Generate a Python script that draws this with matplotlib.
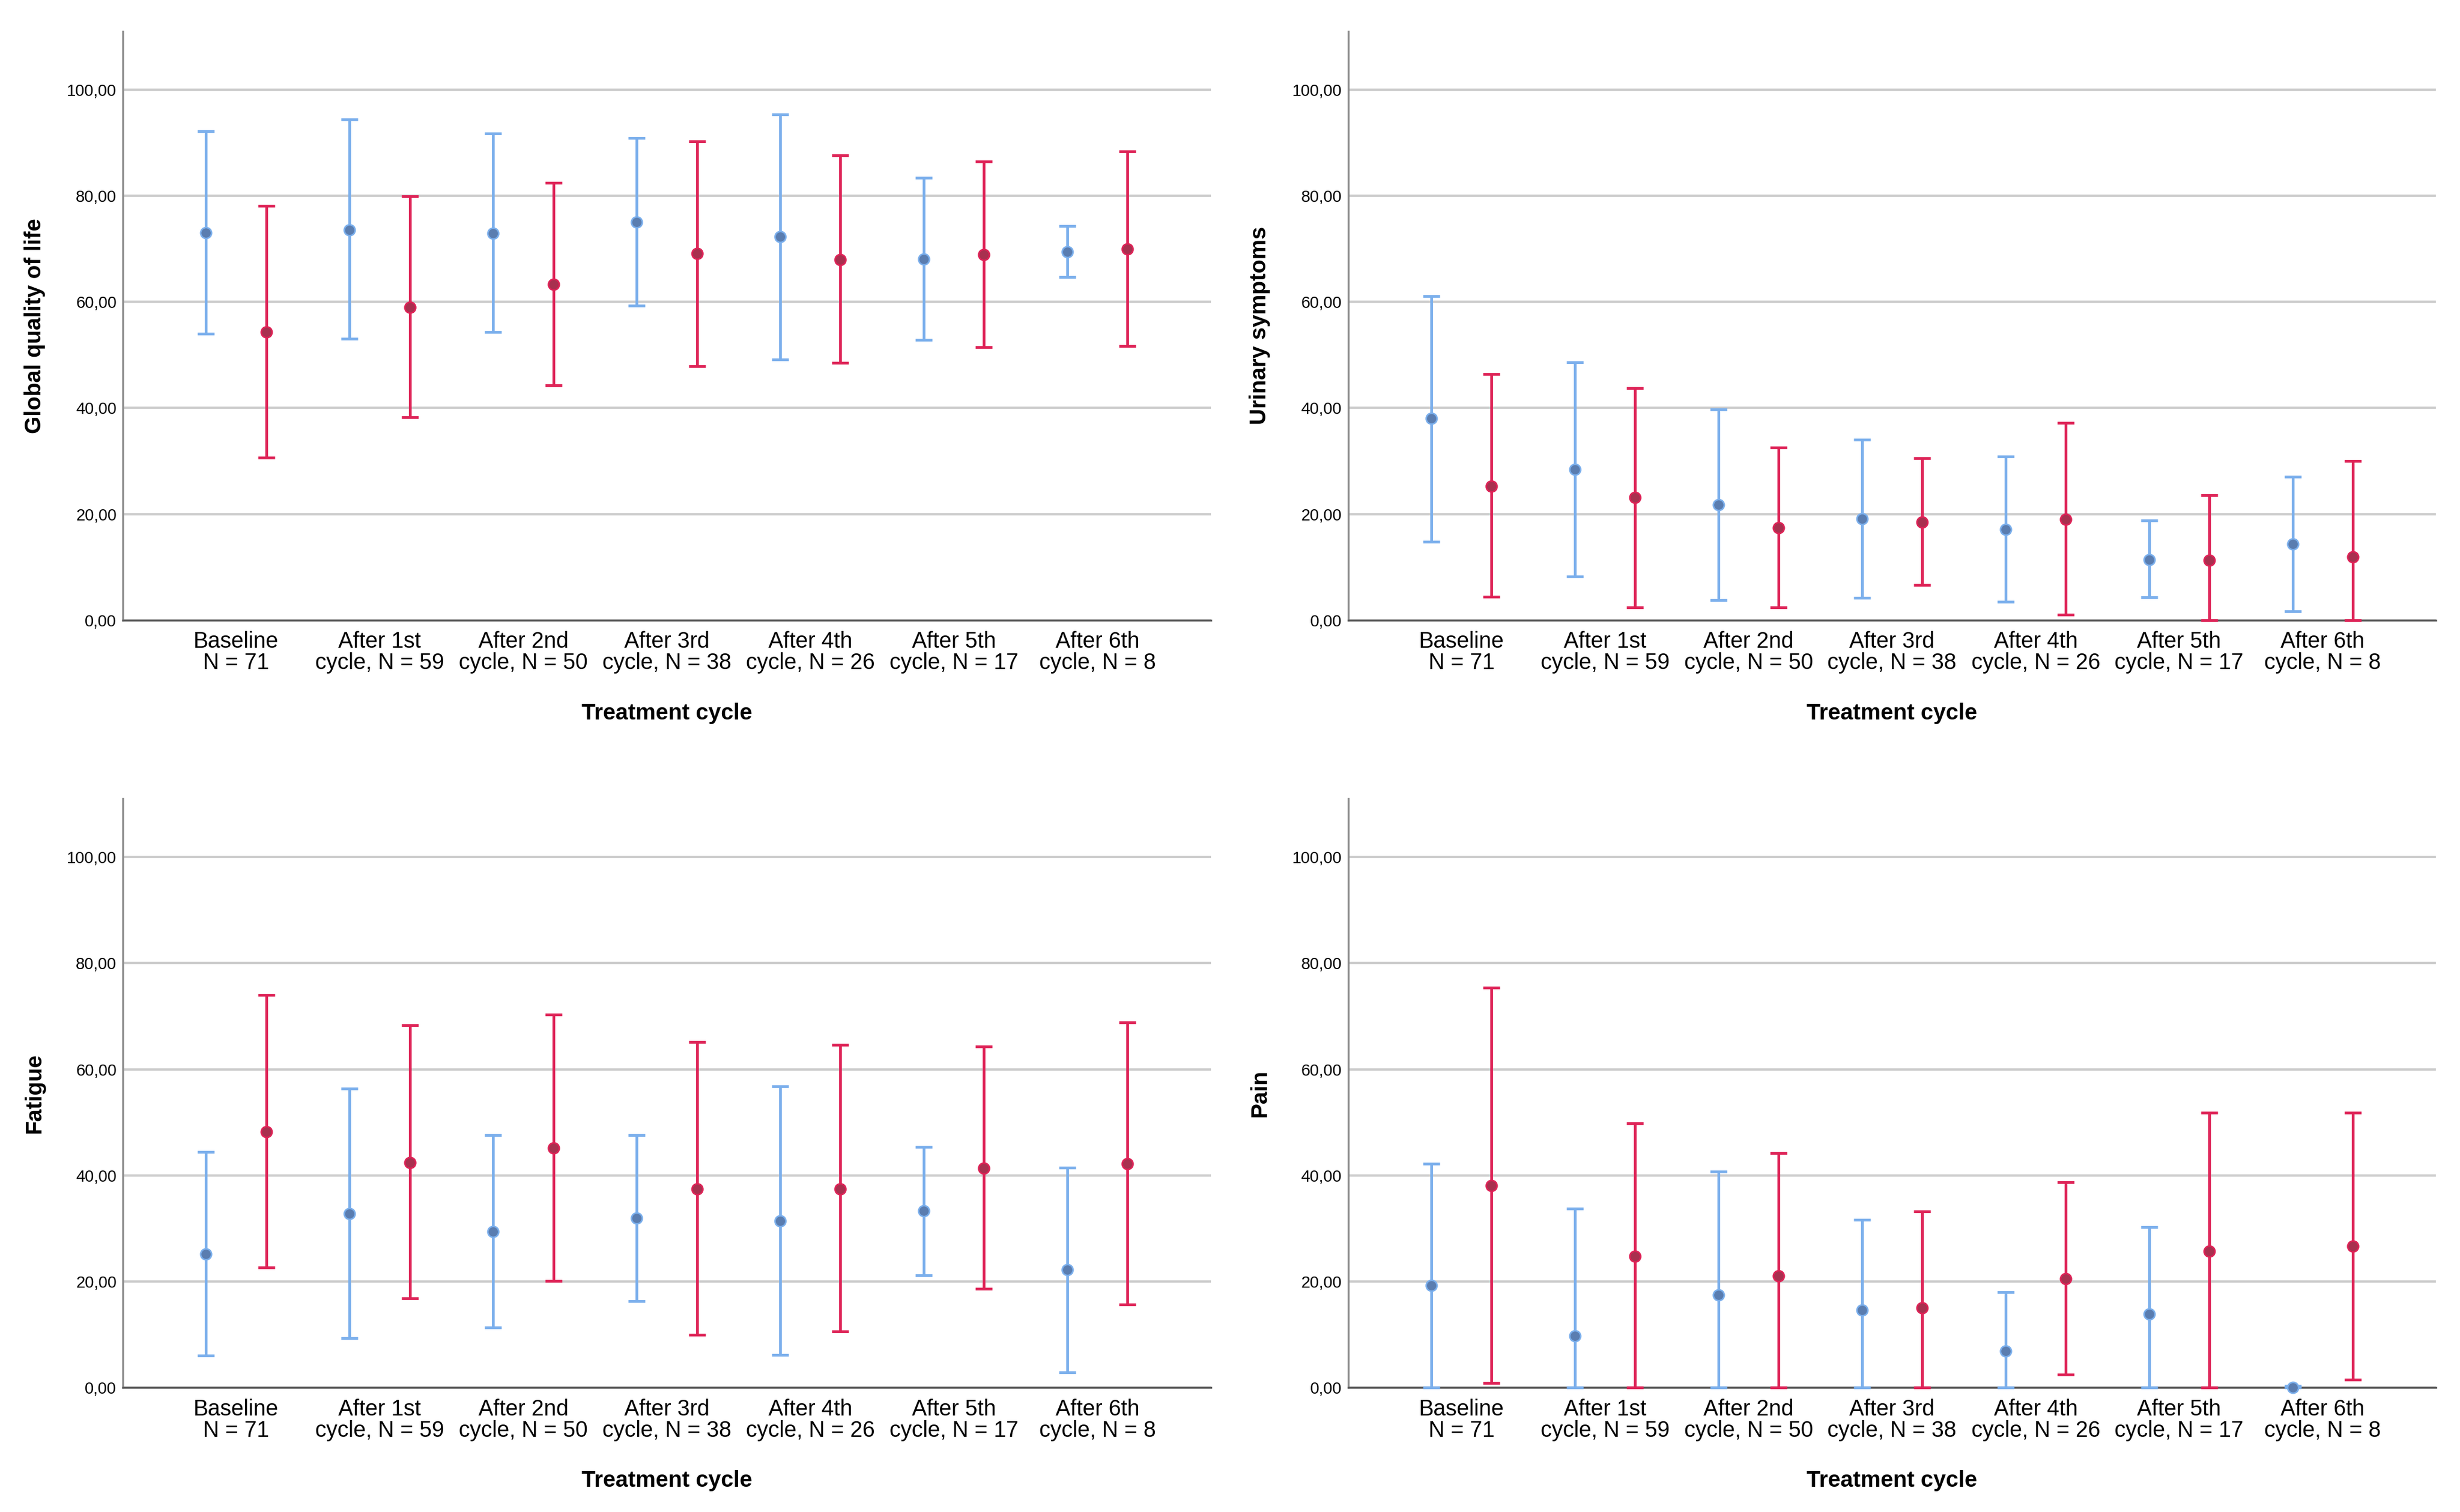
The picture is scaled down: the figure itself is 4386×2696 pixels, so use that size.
import matplotlib
matplotlib.use('Agg')
import matplotlib.pyplot as plt
import numpy as np

# categories (x tick labels)
cycles = ['Baseline\nN = 71', 'After 1st\ncycle, N = 59', 'After 2nd\ncycle, N = 50',
          'After 3rd\ncycle, N = 38', 'After 4th\ncycle, N = 26', 'After 5th\ncycle, N = 17',
          'After 6th\ncycle, N = 8']
yticks = [0, 20, 40, 60, 80, 100]

# Global quality of life
qol_blue_mean = [73.0, 73.6, 72.9, 75.0, 72.3, 68.1, 69.4]
qol_blue_low = [54.0, 53.1, 54.3, 59.3, 49.1, 52.8, 64.7]
qol_blue_up = [92.2, 94.4, 91.7, 90.9, 95.3, 83.4, 74.3]
qol_red_mean = [54.3, 59.0, 63.3, 69.1, 68.0, 68.9, 70.0]
qol_red_low = [30.6, 38.3, 44.3, 47.9, 48.5, 51.5, 51.7]
qol_red_up = [78.1, 79.9, 82.4, 90.3, 87.6, 86.5, 88.4]

# Urinary symptoms
uri_blue_mean = [38.0, 28.4, 21.8, 19.1, 17.1, 11.4, 14.4]
uri_blue_low = [14.8, 8.2, 3.8, 4.2, 3.5, 4.3, 1.7]
uri_blue_up = [61.1, 48.6, 39.7, 34.0, 30.9, 18.8, 27.0]
uri_red_mean = [25.3, 23.1, 17.4, 18.5, 19.0, 11.3, 11.9]
uri_red_low = [4.4, 2.4, 2.4, 6.6, 1.0, 0.0, 0.0]
uri_red_up = [46.4, 43.8, 32.5, 30.5, 37.2, 23.6, 30.0]

# Fatigue
fat_blue_mean = [25.2, 32.8, 29.4, 31.9, 31.4, 33.3, 22.2]
fat_blue_low = [6.0, 9.3, 11.3, 16.3, 6.1, 21.2, 2.9]
fat_blue_up = [44.4, 56.4, 47.6, 47.6, 56.8, 45.4, 41.4]
fat_red_mean = [48.2, 42.4, 45.1, 37.4, 37.4, 41.3, 42.2]
fat_red_low = [22.6, 16.8, 20.1, 10.0, 10.6, 18.6, 15.7]
fat_red_up = [74.0, 68.3, 70.3, 65.1, 64.6, 64.3, 68.8]

# Pain
pain_blue_mean = [19.2, 9.7, 17.5, 14.6, 6.9, 13.9, 0.0]
pain_blue_low = [0.0, 0.0, 0.0, 0.0, 0.0, 0.0, 0.0]
pain_blue_up = [42.2, 33.7, 40.7, 31.6, 18.0, 30.2, 0.3]
pain_red_mean = [38.1, 24.7, 21.0, 15.0, 20.5, 25.7, 26.7]
pain_red_low = [0.9, 0.0, 0.0, 0.0, 2.4, 0.0, 1.5]
pain_red_up = [75.4, 49.8, 44.2, 33.2, 38.7, 51.8, 51.8]

panels = [
    ('Global quality of life', qol_blue_mean, qol_blue_low, qol_blue_up, qol_red_mean, qol_red_low, qol_red_up),
    ('Urinary symptoms', uri_blue_mean, uri_blue_low, uri_blue_up, uri_red_mean, uri_red_low, uri_red_up),
    ('Fatigue', fat_blue_mean, fat_blue_low, fat_blue_up, fat_red_mean, fat_red_low, fat_red_up),
    ('Pain', pain_blue_mean, pain_blue_low, pain_blue_up, pain_red_mean, pain_red_low, pain_red_up),
]

narrow = ['Liberation Sans Narrow', 'Liberation Sans', 'DejaVu Sans']
boldfam = ['Liberation Sans', 'DejaVu Sans']

blue_line, blue_dot = '#7BAFEC', '#5A7DB0'
red_line, red_dot = '#DE2357', '#A8304F'

fig = plt.figure(figsize=(43.86, 26.96), dpi=100)
positions = [(0.0499, 0.5898), (0.548, 0.5898), (0.0499, 0.0823), (0.548, 0.0823)]
w, h = 0.4423, 0.3895

x = np.arange(len(cycles))
off = 0.21

for (left, bottom), (name, bm, bl, bu, rm, rl, ru) in zip(positions, panels):
    ax = fig.add_axes([left, bottom, w, h])
    for xs, m, lo, up, lc, dc in [(x - off, bm, bl, bu, blue_line, blue_dot),
                                  (x + off, rm, rl, ru, red_line, red_dot)]:
        m = np.array(m)
        yerr = np.vstack([m - np.array(lo), np.array(up) - m])
        ax.errorbar(xs, m, yerr=yerr, fmt='none', ecolor=lc, elinewidth=3.5,
                    capsize=11, capthick=3.5, clip_on=False, zorder=3)
        ax.plot(xs, m, 'o', ms=14, mfc=dc, mec=lc, mew=2, clip_on=False, zorder=4)
    ax.set_xlim(-0.79, 6.79)
    ax.set_ylim(0, 111)
    ax.set_yticks(yticks)
    ax.set_yticklabels(['%d,00' % v for v in yticks], family=narrow, fontsize=21)
    ax.set_xticks(x)
    ax.set_xticklabels(cycles, family=narrow, fontsize=28.5, linespacing=1.0)
    ax.tick_params(length=0)
    ax.tick_params(axis='y', pad=8)
    ax.tick_params(axis='x', pad=14)
    ax.grid(axis='y', color='#CCCCCC', lw=3, zorder=0)
    ax.set_axisbelow(True)
    for s in ['top', 'right']:
        ax.spines[s].set_visible(False)
    ax.spines['left'].set_color('#8C8C8C')
    ax.spines['left'].set_linewidth(2.5)
    ax.spines['bottom'].set_color('#555555')
    ax.spines['bottom'].set_linewidth(2.5)
    ax.set_xlabel('Treatment cycle', family=boldfam, fontweight='bold', fontsize=29)
    ax.xaxis.set_label_coords(0.5, -0.14)
    ax.set_ylabel(name, family=boldfam, fontweight='bold', fontsize=29, va='center')
    ax.yaxis.set_label_coords(-0.081, 0.5)

fig.savefig('out.png', dpi=100, facecolor='white')
